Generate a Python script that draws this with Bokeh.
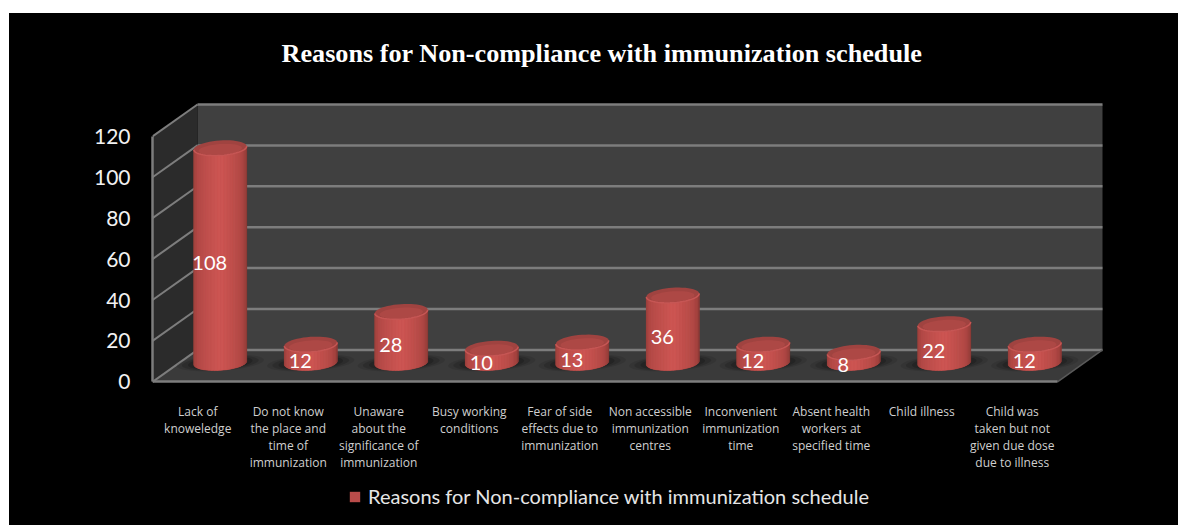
import math
from bokeh.embed import file_html
from bokeh.resources import INLINE
from bokeh.core.properties import value
from bokeh.models import FixedTicker, Legend, LegendItem, Range1d
from bokeh.plotting import figure

TITLE = "Reasons for Non-compliance with immunization schedule"
categories = [
    "Lack of\nknoweledge",
    "Do not know\nthe place and\ntime of\nimmunization",
    "Unaware\nabout the\nsignificance of\nimmunization",
    "Busy working\nconditions",
    "Fear of side\neffects due to\nimmunization",
    "Non accessible\nimmunization\ncentres",
    "Inconvenient\nimmunization\ntime",
    "Absent health\nworkers at\nspecified time",
    "Child illness",
    "Child was\ntaken but not\ngiven due dose\ndue to illness",
]
values = [108, 12, 28, 10, 13, 36, 12, 8, 22, 12]
y_ticks = [0, 20, 40, 60, 80, 100, 120]

# frame geometry: one category is 90.5 px, one unit of value is 2.05 px
PX_X, PX_Y = 90.5, 2.05
FRAME_W = 1026
FRAME_ABOVE, FRAME_BELOW = 291, 144   # px above and below value 0
DX, DY = 45 / PX_X, 32 / PX_Y   # depth of the 3-D box in data units
N = len(categories)
Y_MAX = y_ticks[-1]

p = figure(width=1169, height=512, output_backend="svg", toolbar_location=None,
           x_range=Range1d(0, FRAME_W / PX_X), y_range=Range1d(-FRAME_BELOW / PX_Y, FRAME_ABOVE / PX_Y),
           min_border_left=143, min_border_right=0, min_border_top=77, min_border_bottom=0,
           background_fill_color=None, border_fill_color=None,
           outline_line_color=None, margin=(13, 0, 0, 9), styles={"background": "#000000"})
p.grid.visible = False

p.title.text = TITLE
p.title.align = "left"
p.title.offset = 129
p.title.standoff = 47
p.title.text_color = "#ffffff"
p.title.text_font = "Liberation Serif"
p.title.text_font_size = "26.2px"
p.title.text_font_style = "bold"

# ---- axes
ya = p.yaxis[0]
ya.ticker = FixedTicker(ticks=y_ticks)
ya.bounds = (0, Y_MAX)
ya.axis_line_color = "#7d7d7d"
ya.axis_line_width = 2.5
ya.major_tick_line_color = None
ya.minor_tick_line_color = None
ya.major_label_text_color = "#f2f2f2"
ya.major_label_text_font = "Lato"
ya.major_label_text_font_size = "21px"
ya.major_label_standoff = 16

xa = p.xaxis[0]
ticks = [i + 0.5 for i in range(N)]
xa.ticker = FixedTicker(ticks=ticks)
xa.major_label_overrides = dict(zip(ticks, categories))
xa.bounds = (0, N)
xa.fixed_location = 0
xa.axis_line_color = "#7d7d7d"
xa.axis_line_width = 2.5
xa.major_tick_line_color = None
xa.minor_tick_line_color = None
xa.major_label_text_color = "#cfcfcf"
xa.major_label_text_font = "Open Sans"
xa.major_label_text_font_size = "12px"
xa.major_label_text_line_height = 1.0
xa.major_label_standoff = 15
xa.major_label_orientation = "horizontal"

# ---- box walls
p.patch([DX, N + DX, N + DX, DX], [DY, DY, Y_MAX + DY, Y_MAX + DY], fill_color="#404040", line_color=None)
p.patch([0, DX, DX, 0], [0, DY, Y_MAX + DY, Y_MAX], fill_color="#2b2b2b", line_color=None)
p.patch([0, N, N + DX, DX], [0, 0, DY, DY], fill_color="#3a3a3a", line_color=None)

p.multi_line([[DX, N + DX] for _ in y_ticks], [[t + DY, t + DY] for t in y_ticks],
             line_color="#7d7d7d", line_width=2.5)
p.multi_line([[0, DX] for _ in y_ticks], [[t, t + DY] for t in y_ticks],
             line_color="#7d7d7d", line_width=2)
p.line([N, N + DX], [0, DY], line_color="#5a5a5a", line_width=1.5)

# ---- cylinders
RX, RY, TILT = 26.5, 7.5, 0.07


def rim(cx, cy, a, sx=1.0, sy=1.0):
    ox = RX * sx * math.cos(a) * math.cos(TILT) - RY * sy * math.sin(a) * math.sin(TILT)
    oy = RX * sx * math.cos(a) * math.sin(TILT) + RY * sy * math.sin(a) * math.cos(TILT)
    return cx + ox / PX_X, cy + oy / PX_Y


def mix(stops, s):
    for (s0, c0), (s1, c1) in zip(stops, stops[1:]):
        if s <= s1:
            t = (s - s0) / (s1 - s0)
            rgb = [round(c0[k] + (c1[k] - c0[k]) * t) for k in range(3)]
            return "#%02x%02x%02x" % tuple(rgb)
    return "#%02x%02x%02x" % stops[-1][1]


SHADE = [(0, (150, 62, 58)), (0.16, (178, 73, 70)), (0.5, (206, 86, 83)),
         (0.8, (176, 72, 69)), (1, (140, 58, 55))]
STRIPS = 26
BASE_Y = 19 / PX_Y      # centre of the bottom ellipse
TOP_Y0 = 13 / PX_Y      # centre of the top ellipse at value 0 (perspective shift)
arc = [math.pi + math.pi * k / STRIPS for k in range(STRIPS + 1)]
full = [2 * math.pi * k / 48 for k in range(48)]

# soft floor shadow under the bars
for gx, gy, alpha in [(1.65, 1.05, 0.10), (1.45, 0.95, 0.14), (1.22, 0.85, 0.18)]:
    xs, ys = [], []
    for i in range(N):
        cx = i + 0.5 + DX * 0.5
        ring = [rim(cx, BASE_Y, a, gx, gy) for a in full]
        xs.append([q[0] for q in ring])
        ys.append([q[1] for q in ring])
    p.patches(xs, ys, fill_color="#000000", fill_alpha=alpha, line_color=None)

sil_x, sil_y, strip_x, strip_y, strip_c = [], [], [], [], []
top_x, top_y, mid_x, mid_y, lip_x, lip_y = [], [], [], [], [], []
for i, v in enumerate(values):
    cx = i + 0.5 + DX * 0.5
    top = TOP_Y0 + v
    lower = [rim(cx, BASE_Y, a) for a in arc]
    upper = [rim(cx, top, a) for a in arc]
    sil_x.append([q[0] for q in lower] + [q[0] for q in reversed(upper)])
    sil_y.append([q[1] for q in lower] + [q[1] for q in reversed(upper)])
    for k in range(STRIPS):
        strip_x.append([lower[k][0], lower[k + 1][0], upper[k + 1][0], upper[k][0]])
        strip_y.append([lower[k][1], lower[k + 1][1], upper[k + 1][1], upper[k][1]])
        strip_c.append(mix(SHADE, k / (STRIPS - 1)))
    cap = [rim(cx, top, a) for a in full]
    top_x.append([q[0] for q in cap])
    top_y.append([q[1] for q in cap])
    inner = [rim(cx, top - 1.5 / PX_Y, a, 0.82, 0.72) for a in full]
    mid_x.append([q[0] for q in inner])
    mid_y.append([q[1] for q in inner])
    lip_x.append([q[0] for q in upper])
    lip_y.append([q[1] for q in upper])

body = p.patches(sil_x, sil_y, fill_color="#b94c4a", line_color=None)
p.patches(strip_x, strip_y, fill_color=strip_c, line_color=strip_c, line_width=0.5)
p.patches(top_x, top_y, fill_color="#a04340", line_color=None)
p.patches(mid_x, mid_y, fill_color="#ad4845", line_color=None)
p.multi_line(lip_x, lip_y, line_color="#c65654", line_width=1.5)

# ---- value labels
p.text([i + 0.5 + 12 / PX_X for i in range(N)], [v / 2 + 4.0 for v in values],
       text=[str(v) for v in values], text_color="#ffffff", text_font=value("Lato"),
       text_font_size="20px", text_align="center", text_baseline="middle")

# ---- legend
legend = Legend(items=[LegendItem(label=TITLE, renderers=[body])], location=(196, 17),
                background_fill_alpha=0, border_line_color=None, margin=0, padding=0,
                glyph_width=13, glyph_height=13, label_standoff=7,
                label_text_color="#e6e6e6", label_text_font="Lato", label_text_font_size="20px")
p.add_layout(legend, "center")

open("out.html", "w").write(file_html(p, INLINE))
